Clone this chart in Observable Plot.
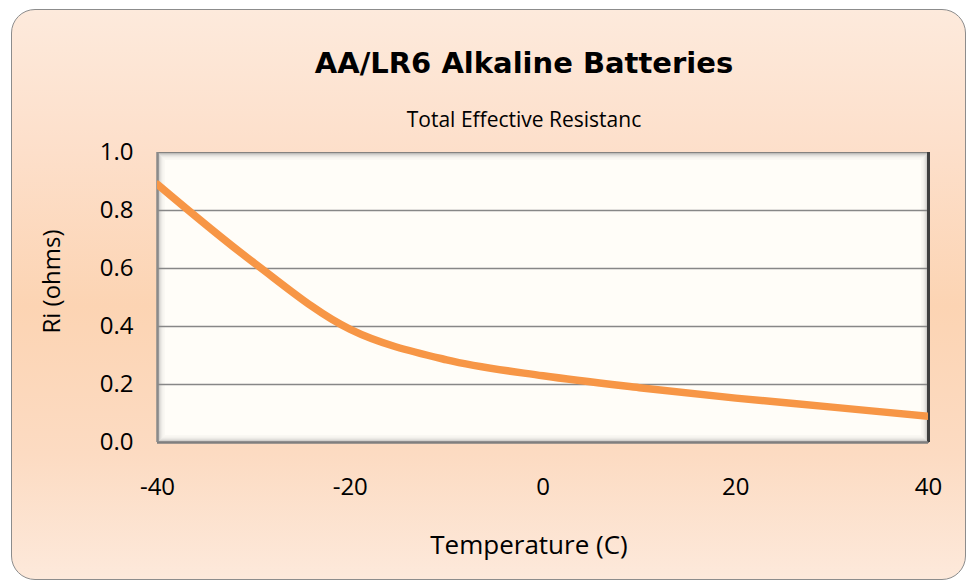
<!DOCTYPE html>
<html>
<head>
<meta charset="utf-8">
<script src="https://cdn.jsdelivr.net/npm/d3@7"></script>
<script src="https://cdn.jsdelivr.net/npm/@observablehq/plot@0.6"></script>
<style>
  html, body { margin: 0; padding: 0; background: #ffffff; }
  #wrap { position: relative; width: 969px; height: 581px; overflow: hidden; background: #ffffff; }
  #card {
    position: absolute; left: 11px; top: 9px; width: 955px; height: 571px;
    box-sizing: border-box; border: 1.5px solid #8c8c8c; border-radius: 24px;
    background: linear-gradient(180deg, #fdeadc 0%, #fddfca 25%, #fcd4b3 52%, #fcdbc2 78%, #fde9db 100%);
  }
  #head { position: relative; height: 140px; }
  #title {
    position: absolute; left: 124px; width: 800px; top: 44px; text-align: center;
    font-family: "DejaVu Sans", sans-serif; font-weight: bold; font-size: 29px; line-height: 38px; color: #000;
  }
  #subtitle {
    position: absolute; left: 124px; width: 800px; top: 105px; text-align: center;
    font-family: "Open Sans", sans-serif; font-size: 21px; line-height: 28px; color: #000;
  }
  #chart { position: relative; height: 441px; }
  #chart svg { display: block; }
</style>
</head>
<body>
<div id="wrap">
  <div id="card"></div>
  <div id="head">
    <div id="title"></div>
    <div id="subtitle"></div>
  </div>
  <div id="chart"></div>
</div>
<script>
// ---- data ----
const titleText = "AA/LR6 Alkaline Batteries";
const subtitleText = "Total Effective Resistanc";
const xLabel = "Temperature (C)";
const yLabel = "Ri (ohms)";
const temperatures = [-40, -30, -20, -10, 0, 10, 20, 30, 40];
const resistance = [0.89, 0.62, 0.39, 0.285, 0.23, 0.189, 0.153, 0.122, 0.09];
const xTicks = [-40, -20, 0, 20, 40];
const yTicks = [0.0, 0.2, 0.4, 0.6, 0.8, 1.0];
const gridTicks = [0.2, 0.4, 0.6, 0.8];

document.getElementById("title").textContent = titleText;
document.getElementById("subtitle").textContent = subtitleText;

const data = temperatures.map((t, i) => ({t, r: resistance[i]}));

const bevelOpacity = [0.85, 0.45, 0.3, 0.2, 0.13, 0.08, 0.05, 0.03];
const bevel = bevelOpacity.map((op, i) =>
  Plot.frame({inset: i, stroke: "#6e6e6e", strokeOpacity: op, fill: "none"}));

const chart = Plot.plot({
  width: 969,
  height: 441,
  marginTop: 12,
  marginBottom: 139,
  marginLeft: 157,
  marginRight: 41,
  style: {background: "transparent", fontFamily: "'Open Sans', sans-serif", fontSize: "24px", color: "#000", overflow: "visible"},
  x: {domain: [-40, 40]},
  y: {domain: [0, 1]},
  marks: [
    Plot.frame({fill: "#fffdf8", stroke: "none"}),
    ...bevel,
    Plot.gridY(gridTicks, {stroke: "#878787", strokeOpacity: 1, strokeWidth: 1.5}),
    Plot.ruleX([40], {stroke: "#3f3f3f", strokeWidth: 3}),
    Plot.ruleY([0], {stroke: "#7f7f7f", strokeWidth: 2.5}),
    Plot.ruleX([-40], {stroke: "#8a8a8a", strokeWidth: 2.5}),
    Plot.line(data, {x: "t", y: "r", stroke: "#f79646", strokeWidth: 7.5, curve: "catmull-rom", clip: true}),
    Plot.axisX(xTicks, {tickSize: 0, tickPadding: 35, tickFormat: d => String(d), label: null, fontSize: 24}),
    Plot.axisY(yTicks, {tickSize: 0, tickPadding: 24, tickFormat: d => d.toFixed(1), label: null, fontSize: 24}),
    Plot.text([xLabel], {frameAnchor: "bottom", lineAnchor: "middle", textAnchor: "middle", dy: 103, dx: -14, fontSize: 26}),
    Plot.text([yLabel], {frameAnchor: "left", lineAnchor: "middle", textAnchor: "middle", rotate: -90, dx: -105, dy: -16, fontSize: 24})
  ]
});
document.getElementById("chart").appendChild(chart);
</script>
</body>
</html>
